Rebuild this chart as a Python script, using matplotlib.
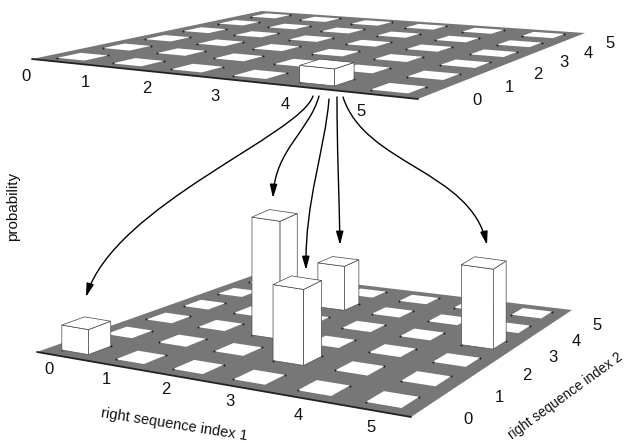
import numpy as np
import matplotlib
matplotlib.use('Agg')
import matplotlib.pyplot as plt
from matplotlib.patches import Polygon, FancyArrowPatch
from matplotlib.path import Path

plt.rcParams['font.family'] = ['Liberation Sans', 'DejaVu Sans']

# Data: grid size, bars as (index 1, index 2, height in pixels)
tick_labels = ['0', '1', '2', '3', '4', '5']
top_bar_i = [4]
top_bar_j = [0]
top_bar_h = [17]
bottom_bar_i = [2, 2, 0, 3, 5]
bottom_bar_j = [4, 2, 0, 1, 3]
bottom_bar_h = [44, 118, 25, 76, 80]

# plate corners in pixels: left, front, right, back
top_plate = [(32, 59), (418, 99), (585, 33), (262, 11)]
bottom_plate = [(37, 352), (411, 417), (572, 310), (260, 273)]

gray = '#777777'
half = 0.25


def homography(c):
    (x0, y0), (x1, y1), (x2, y2), (x3, y3) = c
    A = np.array([[x1 - x2, x3 - x2], [y1 - y2, y3 - y2]], float)
    s = np.array([x0 - x1 + x2 - x3, y0 - y1 + y2 - y3], float)
    g, h = np.linalg.solve(A, s)
    return np.array([[x1 * (g + 1) - x0, x3 * (h + 1) - x0, x0],
                     [y1 * (g + 1) - y0, y3 * (h + 1) - y0, y0],
                     [g, h, 1]])


def proj(H, i, j):
    p = H @ np.array([i / 6, j / 6, 1])
    return p[0] / p[2], p[1] / p[2]


def draw_plate(ax, corners, bar_i, bar_j, bar_h):
    H = homography(corners)
    ax.add_patch(Polygon(corners, closed=True, fc=gray, ec='none', zorder=1))
    ax.plot([corners[0][0], corners[1][0]], [corners[0][1], corners[1][1]],
            color='#222222', lw=1.3, zorder=2, solid_capstyle='round')
    for i in range(6):
        for j in range(6):
            c = [proj(H, i + 0.5 + a * half, j + 0.5 + b * half)
                 for a, b in [(-1, -1), (1, -1), (1, 1), (-1, 1)]]
            ax.add_patch(Polygon(c, closed=True, fc='white', ec='none', zorder=2))
            ax.plot([c[0][0], c[2][0]], [c[0][1], c[2][1]], ls='none', marker='o',
                    ms=1.5, mew=0, color='#222222', zorder=2)
    order = np.argsort(np.array(bar_i) - np.array(bar_j))
    for n, k in enumerate(order):
        i, j, h = bar_i[k], bar_j[k], bar_h[k]
        c = [proj(H, i + 0.5 + a * half, j + 0.5 + b * half)
             for a, b in [(-1, -1), (1, -1), (1, 1), (-1, 1)]]
        t = [(x, y - h) for x, y in c]
        z = 3 + n
        for face in ([c[0], c[1], t[1], t[0]], [c[1], c[2], t[2], t[1]], t):
            ax.add_patch(Polygon(face, closed=True, fc='white', ec='#444444', lw=0.5, zorder=z))


fig = plt.figure(figsize=(6.24, 4.43), dpi=100)
ax = fig.add_axes([0, 0, 1, 1])
ax.set_xlim(0, 624)
ax.set_ylim(443, 0)
ax.axis('off')

draw_plate(ax, top_plate, top_bar_i, top_bar_j, top_bar_h)
draw_plate(ax, bottom_plate, bottom_bar_i, bottom_bar_j, bottom_bar_h)

# tick labels
top_x1 = [(26, 76), (85, 82), (147, 88), (215, 96), (285, 104), (361, 111)]
top_x2 = [(477, 100), (509, 87), (538, 74), (564, 62), (588, 53), (610, 43)]
bot_x1 = [(49, 369), (106, 380), (166, 390), (230, 402), (298, 415), (371, 427)]
bot_x2 = [(468, 419), (499, 397), (527, 376), (553, 357), (576, 341), (597, 325)]
for pos in (top_x1, top_x2, bot_x1, bot_x2):
    for lab, (x, y) in zip(tick_labels, pos):
        ax.text(x, y, lab, fontsize=12, ha='center', va='center', color='#111111')

ax.text(13, 206, 'probability', fontsize=11, rotation=90, ha='center', va='center', color='#111111')
ax.text(174, 425, 'right sequence index 1', fontsize=10.5, rotation=-9, ha='center', va='center',
        color='#111111', rotation_mode='anchor')
ax.text(565, 396, 'right sequence index 2', fontsize=9.8, rotation=36, ha='center', va='center',
        color='#111111', rotation_mode='anchor')

# arrows from the top bar down to the bars below
arrows = [
    [(313, 96), (300, 135), (115, 205), (86, 297)],
    [(319, 96), (310, 130), (275, 150), (273, 198)],
    [(329, 99), (325, 150), (305, 200), (306, 270)],
    [(337, 97), (337, 150), (339, 190), (340, 245)],
    [(343, 97), (365, 165), (470, 170), (487, 245)],
]
for pts in arrows:
    p = Path(pts, [Path.MOVETO, Path.CURVE4, Path.CURVE4, Path.CURVE4])
    ax.add_patch(FancyArrowPatch(path=p, arrowstyle='-|>,head_length=8,head_width=2.2',
                                 color='black', lw=1.0, zorder=10, shrinkA=0, shrinkB=0))

fig.savefig('out.png', dpi=100)
